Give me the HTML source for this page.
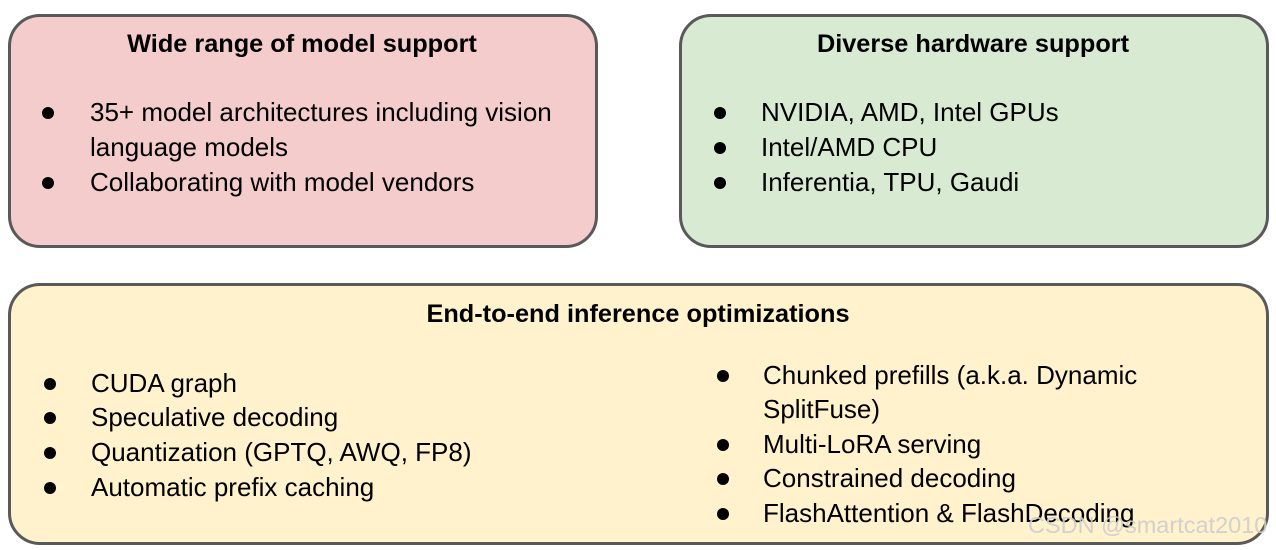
<!DOCTYPE html>
<html><head><style>
body{margin:0;width:1276px;height:550px;background:#fff;position:relative;overflow:hidden;font-family:"Liberation Sans",sans-serif;color:#000}
.b{position:absolute;border:3px solid #595959;border-radius:32px;box-sizing:border-box}
.t{position:absolute;font-size:26px;line-height:30px;white-space:nowrap;transform:translateY(-15px)}
.h{font-weight:bold;font-size:25.3px;transform:translate(-50%,-15px)}
.d{position:absolute;width:12px;height:12px;border-radius:50%;background:#000;transform:translate(-50%,-50%)}
</style></head><body>
<div class="b" style="left:8px;top:14px;width:590px;height:234px;background:#f4cccc"></div>
<div class="b" style="left:679px;top:14px;width:590px;height:234px;background:#d9ead3"></div>
<div class="b" style="left:8px;top:283px;width:1261px;height:262px;background:#fff2cc"></div>

<div class="t h" style="left:302px;top:44px">Wide range of model support</div>
<div class="d" style="left:48px;top:113px"></div><div class="t" style="left:90px;top:112px">35+ model architectures including vision</div>
<div class="t" style="left:90px;top:147px">language models</div>
<div class="d" style="left:48px;top:183px"></div><div class="t" style="left:90px;top:182px">Collaborating with model vendors</div>

<div class="t h" style="left:973px;top:44px">Diverse hardware support</div>
<div class="d" style="left:720px;top:113px"></div><div class="t" style="left:761px;top:112px">NVIDIA, AMD, Intel GPUs</div>
<div class="d" style="left:720px;top:148px"></div><div class="t" style="left:761px;top:147px">Intel/AMD CPU</div>
<div class="d" style="left:720px;top:183px"></div><div class="t" style="left:761px;top:182px">Inferentia, TPU, Gaudi</div>

<div class="t h" style="left:638px;top:314px">End-to-end inference optimizations</div>
<div class="d" style="left:50px;top:384px"></div><div class="t" style="left:91px;top:383px">CUDA graph</div>
<div class="d" style="left:50px;top:418px"></div><div class="t" style="left:91px;top:417px">Speculative decoding</div>
<div class="d" style="left:50px;top:453px"></div><div class="t" style="left:91px;top:452px">Quantization (GPTQ, AWQ, FP8)</div>
<div class="d" style="left:50px;top:488px"></div><div class="t" style="left:91px;top:487px">Automatic prefix caching</div>

<div class="d" style="left:723px;top:376px"></div><div class="t" style="left:763px;top:375px">Chunked prefills (a.k.a. Dynamic</div>
<div class="t" style="left:763px;top:409px">SplitFuse)</div>
<div class="d" style="left:723px;top:445px"></div><div class="t" style="left:763px;top:444px">Multi-LoRA serving</div>
<div class="d" style="left:723px;top:479px"></div><div class="t" style="left:763px;top:478px">Constrained decoding</div>
<div class="d" style="left:723px;top:514px"></div><div class="t" style="left:763px;top:513px">FlashAttention &amp; FlashDecoding</div>
<div style="position:absolute;left:1028px;top:512px;font-size:23.5px;color:rgba(205,205,205,0.9);white-space:nowrap">CSDN @smartcat2010</div>
</body></html>
